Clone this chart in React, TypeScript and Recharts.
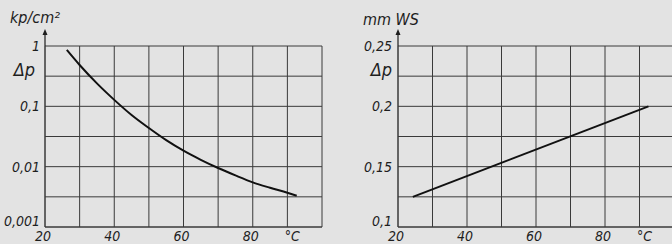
import { LineChart, Line, XAxis, YAxis, CartesianGrid } from "recharts";

// left chart: pressure drop in kp/cm² over temperature (log scale)
const tempsLeft = [26.3, 30, 35, 40, 45, 50, 55, 60, 65, 70, 75, 80, 85, 90, 92.7];
const dpKp = [0.86, 0.484, 0.24, 0.128, 0.0718, 0.0437, 0.0275, 0.0184, 0.013, 0.0095, 0.00716, 0.0055, 0.00447, 0.0037, 0.0033];

// right chart: pressure drop in mm WS (linear scale)
const tempsRight = [24.3, 92.6];
const dpMm = [0.125, 0.2];

const xTicks = [20, 30, 40, 50, 60, 70, 80, 90, 100];
const xLabels = ["20", "", "40", "", "60", "", "80", "°C", ""];

const logTicks = [0.001, 0.003162, 0.01, 0.03162, 0.1, 0.3162, 1];
const logLabels = ["0,001", "", "0,01", "", "0,1", "", "1"];

const linTicks = [0.1, 0.125, 0.15, 0.175, 0.2, 0.225, 0.25];
const linLabels = ["0,1", "", "0,15", "", "0,2", "", "0,25"];

const font = "'Liberation Sans Narrow', 'DejaVu Sans Condensed', 'Liberation Sans', sans-serif";
const ink = "#1e1e1e";
const gridColor = "#3a3a3a";

const leftData = tempsLeft.map((t, i) => ({ t, v: dpKp[i] }));
const rightData = tempsRight.map((t, i) => ({ t, v: dpMm[i] }));

const XTick = (props: any) => {
  const { x, y, payload } = props;
  const label = xLabels[xTicks.indexOf(payload.value)];
  if (!label) return null;
  const shift = label === "°C" ? 5 : -2;
  return (
    <text x={x + shift} y={y + 14} textAnchor="middle" fontFamily={font} fontStyle="italic" fontSize={14} fill={ink}>
      {label}
    </text>
  );
};

const YTick = (props: any) => {
  const { x, y, payload, ticks, labels, gap } = props;
  const i = ticks.indexOf(payload.value);
  const label = labels[i];
  if (!label) return null;
  const lift = i === 0 ? -6 : 0;
  return (
    <text x={x - gap} y={y + 5 + lift} textAnchor="end" fontFamily={font} fontStyle="italic" fontSize={14} fill={ink}>
      {label}
    </text>
  );
};

const AxisTitle = (props: any) => {
  const { viewBox, unit, deltaGap, unitDy } = props;
  const ax = viewBox.x + viewBox.width;
  const top = viewBox.y;
  return (
    <g>
      <line x1={ax} y1={top} x2={ax} y2={top - 14} stroke={ink} strokeWidth={1.2} />
      <path d={`M${ax - 2.5},${top - 11} L${ax},${top - 17} L${ax + 2.5},${top - 11} Z`} fill={ink} />
      <text x={ax - 35} y={top - 22 + unitDy} fontFamily={font} fontStyle="italic" fontSize={16} fill={ink}>
        {unit}
      </text>
      <text x={ax - deltaGap} y={top + 30} textAnchor="end" fontFamily={font} fontStyle="italic" fontSize={18} fill={ink}>
        Δp
      </text>
    </g>
  );
};

export default function App() {
  return (
    <div style={{ position: "absolute", left: 0, top: 0, width: 672, height: 244, overflow: "hidden", background: "#e3e3e3" }}>
      <div style={{ position: "absolute", left: 0, top: 0 }}>
        <LineChart width={336} height={244} data={leftData} margin={{ top: 46, right: 14, bottom: 0, left: 0 }}>
          <CartesianGrid stroke={gridColor} strokeWidth={1} />
          <XAxis
            dataKey="t"
            type="number"
            domain={[20, 100]}
            ticks={xTicks}
            interval={0}
            height={17}
            tickSize={0}
            tickMargin={0}
            stroke={gridColor}
            tick={<XTick />}
          />
          <YAxis
            dataKey="v"
            scale="log"
            domain={[0.001, 1]}
            allowDataOverflow
            ticks={logTicks}
            interval={0}
            width={45}
            tickSize={0}
            tickMargin={0}
            stroke={gridColor}
            tick={<YTick ticks={logTicks} labels={logLabels} gap={5} />}
            label={<AxisTitle unit="kp/cm²" deltaGap={10} unitDy={-1} />}
          />
          <Line type="monotone" dataKey="v" stroke="#111" strokeWidth={2} dot={false} isAnimationActive={false} />
        </LineChart>
      </div>
      <div style={{ position: "absolute", left: 336, top: 0 }}>
        <LineChart width={340} height={244} data={rightData} margin={{ top: 46, right: 2, bottom: 0, left: 0 }}>
          <CartesianGrid stroke={gridColor} strokeWidth={1} />
          <XAxis
            dataKey="t"
            type="number"
            domain={[20, 100]}
            ticks={xTicks}
            interval={0}
            height={17}
            tickSize={0}
            tickMargin={0}
            stroke={gridColor}
            tick={<XTick />}
          />
          <YAxis
            dataKey="v"
            type="number"
            domain={[0.1, 0.25]}
            ticks={linTicks}
            interval={0}
            width={62}
            tickSize={0}
            tickMargin={0}
            stroke={gridColor}
            tick={<YTick ticks={linTicks} labels={linLabels} gap={6} />}
            label={<AxisTitle unit="mm WS" deltaGap={6} unitDy={1} />}
          />
          <Line type="linear" dataKey="v" stroke="#111" strokeWidth={2} dot={false} isAnimationActive={false} />
        </LineChart>
      </div>
    </div>
  );
}
